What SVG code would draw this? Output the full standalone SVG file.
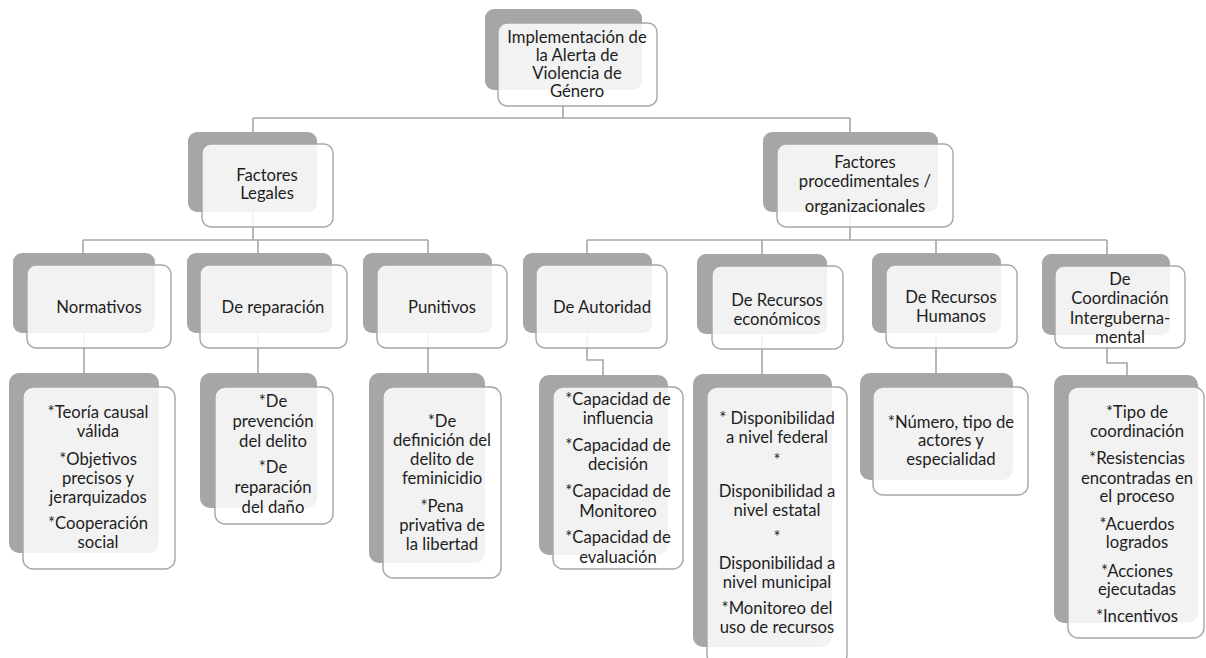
<svg xmlns="http://www.w3.org/2000/svg" width="1206" height="658" viewBox="0 0 1206 658">
  <style>
    .bk { fill: #a6a6a6; }
    .fr { fill: #ffffff; fill-opacity: 0.86; stroke: #a6a6a6; stroke-width: 1.4; }
    .ln { fill: none; stroke: #a6a6a6; stroke-width: 1.6; }
    text { font-family: Lato, "Liberation Sans", sans-serif; font-size: 16.7px; fill: #1e1e1e; text-anchor: middle; }
  </style>
  <rect width="1206" height="658" fill="#ffffff"/>

  <!-- tree connectors -->
  <g id="connectors">
    <path class="ln" d="M563 90 V118 M253 118 H850 M253 118 V132 M850 118 V132"/>
    <path class="ln" d="M253 212 V240 M83 240 H428 M83 240 V253 M258 240 V253 M428 240 V253"/>
    <path class="ln" d="M850 212 V240 M587 240 H1107 M587 240 V253 M762 240 V254 M936 240 V253 M1107 240 V254"/>
    <path class="ln" d="M84 333 V373 M258 333 V373 M428 333 V373"/>
    <path class="ln" d="M587 333 V360 H603 V375"/>
    <path class="ln" d="M762 334 V374 M936 333 V373"/>
    <path class="ln" d="M1107 335 V363 H1127 V375"/>
  </g>

  <!-- level 1 -->
  <g id="node-alerta">
    <rect class="bk" x="485" y="9" width="157" height="81" rx="9"/>
    <rect class="fr" x="498" y="23" width="159" height="83" rx="9"/>
    <text x="577"><tspan x="577" y="43">Implementación de</tspan><tspan x="577" y="61">la Alerta de</tspan><tspan x="577" y="79">Violencia de</tspan><tspan x="577" y="97">Género</tspan></text>
  </g>

  <!-- level 2 -->
  <g id="node-legales">
    <rect class="bk" x="188" y="132" width="129" height="80" rx="9"/>
    <rect class="fr" x="202" y="144" width="131" height="83" rx="9"/>
    <text><tspan x="267" y="181">Factores</tspan><tspan x="267" y="199">Legales</tspan></text>
  </g>
  <g id="node-procedimentales">
    <rect class="bk" x="763" y="132" width="175" height="80" rx="9"/>
    <rect class="fr" x="777" y="144" width="176" height="83" rx="9"/>
    <text><tspan x="865" y="168">Factores</tspan><tspan x="865" y="187">procedimentales /</tspan><tspan x="865" y="212">organizacionales</tspan></text>
  </g>

  <!-- level 3 -->
  <g id="node-normativos">
    <rect class="bk" x="13" y="253" width="142" height="80" rx="9"/>
    <rect class="fr" x="27" y="265" width="144" height="83" rx="9"/>
    <text x="99" y="313">Normativos</text>
  </g>
  <g id="node-reparacion">
    <rect class="bk" x="187" y="253" width="145" height="80" rx="9"/>
    <rect class="fr" x="200" y="265" width="147" height="83" rx="9"/>
    <text x="273" y="313">De reparación</text>
  </g>
  <g id="node-punitivos">
    <rect class="bk" x="363" y="253" width="129" height="80" rx="9"/>
    <rect class="fr" x="377" y="265" width="130" height="83" rx="9"/>
    <text x="442" y="313">Punitivos</text>
  </g>
  <g id="node-autoridad">
    <rect class="bk" x="523" y="253" width="129" height="80" rx="9"/>
    <rect class="fr" x="536" y="265" width="131" height="83" rx="9"/>
    <text x="602" y="313">De Autoridad</text>
  </g>
  <g id="node-rec-economicos">
    <rect class="bk" x="697" y="254" width="130" height="80" rx="9"/>
    <rect class="fr" x="712" y="266" width="131" height="83" rx="9"/>
    <text><tspan x="777" y="306">De Recursos</tspan><tspan x="777" y="325">económicos</tspan></text>
  </g>
  <g id="node-rec-humanos">
    <rect class="bk" x="872" y="253" width="129" height="80" rx="9"/>
    <rect class="fr" x="886" y="265" width="131" height="83" rx="9"/>
    <text><tspan x="951" y="303">De Recursos</tspan><tspan x="951" y="322">Humanos</tspan></text>
  </g>
  <g id="node-coordinacion">
    <rect class="bk" x="1042" y="254" width="128" height="81" rx="9"/>
    <rect class="fr" x="1055" y="266" width="130" height="82" rx="9"/>
    <text><tspan x="1120" y="285">De</tspan><tspan x="1120" y="304">Coordinación</tspan><tspan x="1120" y="324">Interguberna-</tspan><tspan x="1120" y="343">mental</tspan></text>
  </g>

  <!-- level 4 -->
  <g id="list-normativos">
    <rect class="bk" x="9" y="373" width="150" height="180" rx="10"/>
    <rect class="fr" x="23" y="387" width="152" height="182" rx="10"/>
    <text><tspan x="98" y="418">*Teoría causal</tspan><tspan x="98" y="437">válida</tspan><tspan x="98" y="465">*Objetivos</tspan><tspan x="98" y="484">precisos y</tspan><tspan x="98" y="503">jerarquizados</tspan><tspan x="98" y="529">*Cooperación</tspan><tspan x="98" y="548">social</tspan></text>
  </g>
  <g id="list-reparacion">
    <rect class="bk" x="200" y="373" width="117" height="135" rx="10"/>
    <rect class="fr" x="215" y="387" width="118" height="137" rx="10"/>
    <text><tspan x="273" y="407">*De</tspan><tspan x="273" y="427">prevención</tspan><tspan x="273" y="447">del delito</tspan><tspan x="273" y="473">*De</tspan><tspan x="273" y="493">reparación</tspan><tspan x="273" y="513">del daño</tspan></text>
  </g>
  <g id="list-punitivos">
    <rect class="bk" x="369" y="373" width="116" height="190" rx="10"/>
    <rect class="fr" x="383" y="387" width="118" height="191" rx="10"/>
    <text><tspan x="442" y="427">*De</tspan><tspan x="442" y="446">definición del</tspan><tspan x="442" y="465">delito de</tspan><tspan x="442" y="484">feminicidio</tspan><tspan x="442" y="512">*Pena</tspan><tspan x="442" y="531">privativa de</tspan><tspan x="442" y="550">la libertad</tspan></text>
  </g>
  <g id="list-autoridad">
    <rect class="bk" x="539" y="375" width="129" height="180" rx="10"/>
    <rect class="fr" x="553" y="387" width="130" height="182" rx="10"/>
    <text><tspan x="618" y="405">*Capacidad de</tspan><tspan x="618" y="424">influencia</tspan><tspan x="618" y="451">*Capacidad de</tspan><tspan x="618" y="470">decisión</tspan><tspan x="618" y="497">*Capacidad de</tspan><tspan x="618" y="517">Monitoreo</tspan><tspan x="618" y="543">*Capacidad de</tspan><tspan x="618" y="563">evaluación</tspan></text>
  </g>
  <g id="list-rec-economicos">
    <rect class="bk" x="693" y="374" width="139" height="273" rx="10"/>
    <rect class="fr" x="707" y="387" width="140" height="278" rx="10"/>
    <text><tspan x="777" y="424">* Disponibilidad</tspan><tspan x="777" y="443">a nivel federal</tspan><tspan x="777" y="466">*</tspan><tspan x="777" y="497">Disponibilidad a</tspan><tspan x="777" y="516">nivel estatal</tspan><tspan x="777" y="543">*</tspan><tspan x="777" y="569">Disponibilidad a</tspan><tspan x="777" y="588">nivel municipal</tspan><tspan x="777" y="614">*Monitoreo del</tspan><tspan x="777" y="633">uso de recursos</tspan></text>
  </g>
  <g id="list-rec-humanos">
    <rect class="bk" x="860" y="373" width="153" height="107" rx="10"/>
    <rect class="fr" x="873" y="387" width="155" height="108" rx="10"/>
    <text><tspan x="951" y="428">*Número, tipo de</tspan><tspan x="951" y="446">actores y</tspan><tspan x="951" y="465">especialidad</tspan></text>
  </g>
  <g id="list-coordinacion">
    <rect class="bk" x="1054" y="375" width="144" height="248" rx="10"/>
    <rect class="fr" x="1068" y="387" width="136" height="251" rx="10"/>
    <text><tspan x="1137" y="418">*Tipo de</tspan><tspan x="1137" y="437">coordinación</tspan><tspan x="1137" y="464">*Resistencias</tspan><tspan x="1137" y="484">encontradas en</tspan><tspan x="1137" y="502">el proceso</tspan><tspan x="1137" y="530">*Acuerdos</tspan><tspan x="1137" y="548">logrados</tspan><tspan x="1137" y="577">*Acciones</tspan><tspan x="1137" y="595">ejecutadas</tspan><tspan x="1137" y="622">*Incentivos</tspan></text>
  </g>
</svg>
